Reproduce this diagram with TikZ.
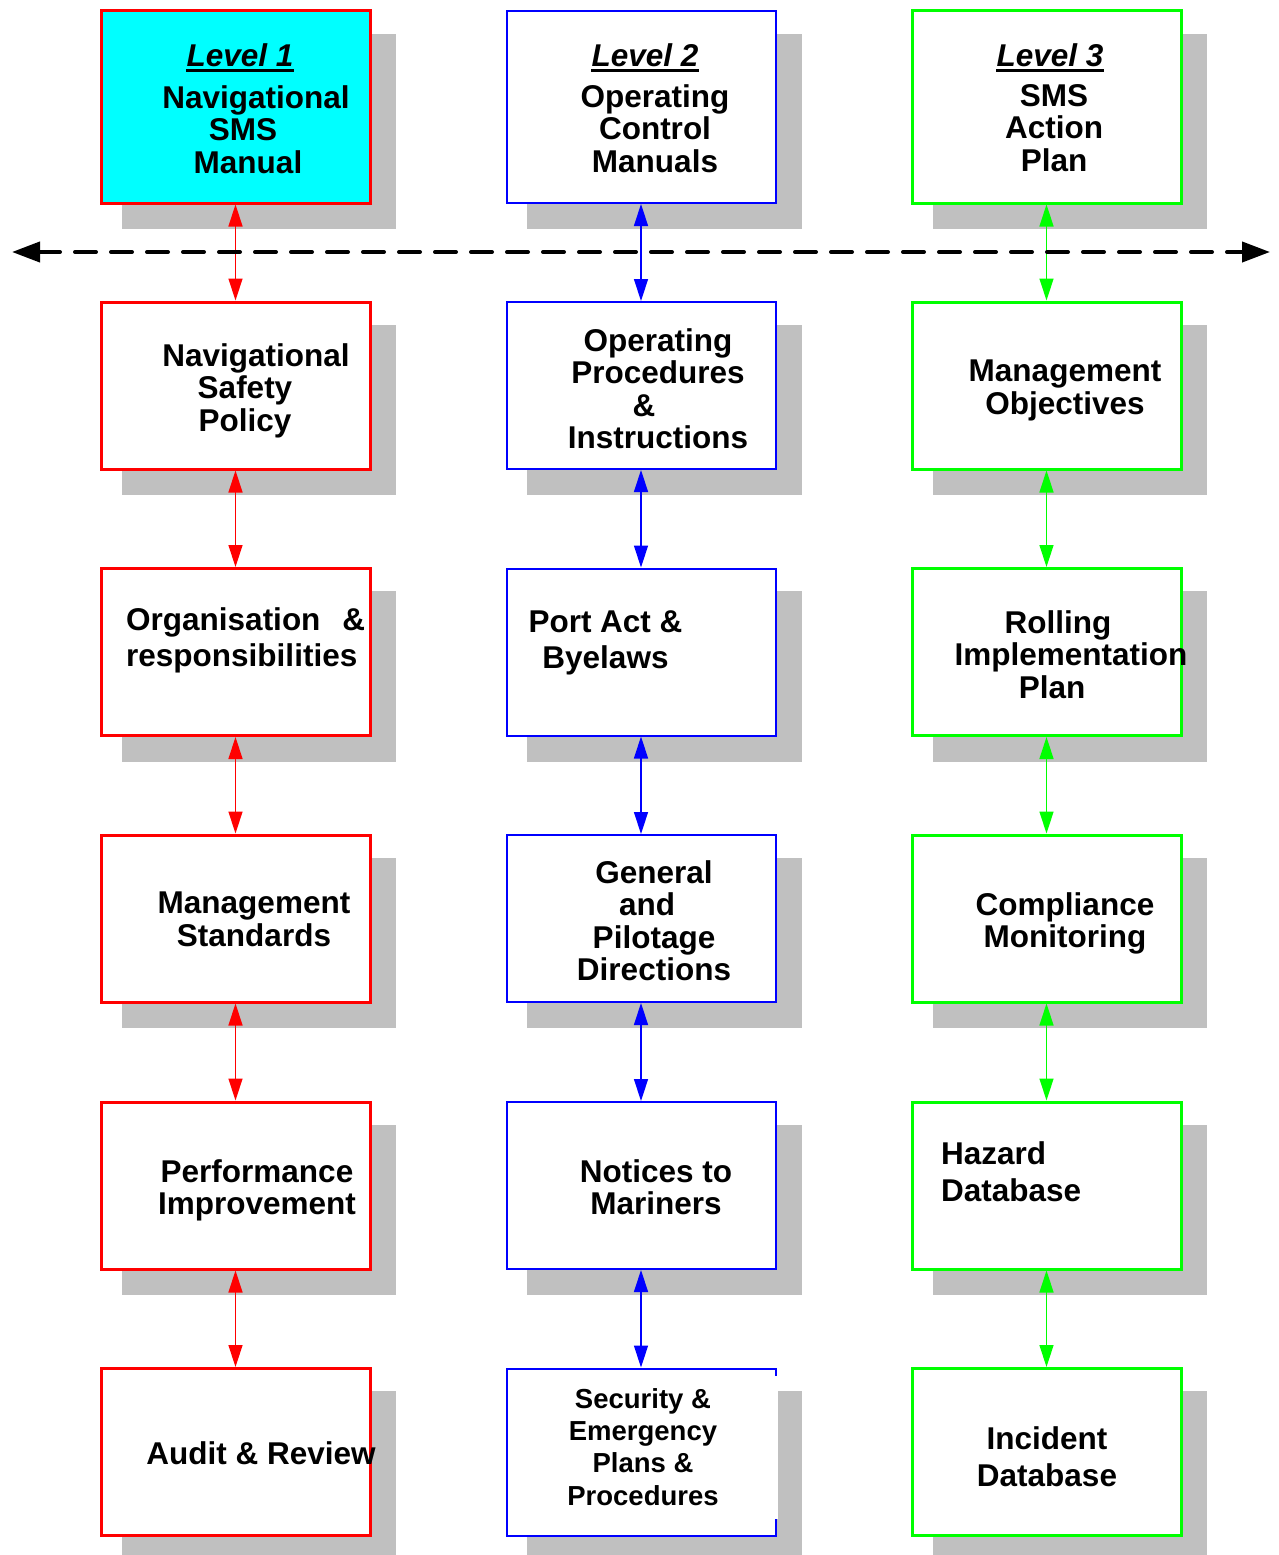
\documentclass[tikz,border=0pt]{standalone}
\usepackage{fontspec}
\setmainfont{Liberation Sans}
\usetikzlibrary{arrows.meta,shadows}
\definecolor{shadowgray}{HTML}{C0C0C0}
\definecolor{rd}{HTML}{FF0000}
\definecolor{bl}{HTML}{0000FF}
\definecolor{gr}{HTML}{00FF00}
\definecolor{cy}{HTML}{00FFFF}
\newcommand\lsh[2]{\hbox{\kern#1\relax #2}}
\begin{document}
\begin{tikzpicture}[x=1pt,y=-1pt,
  box/.style={rectangle, minimum width=269pt, inner sep=0pt, fill=white,
    drop shadow={shadow xshift=23pt,shadow yshift=-24pt,shadow scale=1.02,fill=shadowgray,opacity=1}},
  rbox/.style={box, draw=rd, line width=3pt},
  bbox/.style={box, draw=bl, line width=2pt},
  gbox/.style={box, draw=gr, line width=3pt},
  toprow/.style={minimum height=192pt},
  row/.style={minimum height=167pt},
  txt/.style={inner sep=0pt, align=center, anchor=north,
    font=\fontsize{31.5}{32.5}\selectfont\bfseries},
  ltxt/.style={txt, align=left, anchor=north west},
  stxt/.style={txt, font=\fontsize{27.5}{32.3}\selectfont\bfseries},
  lev/.style={inner sep=0pt, anchor=north,
    font=\fontsize{31.5}{32.5}\selectfont\bfseries\itshape},
  uline/.style={line width=2.5pt},
  link/.style={line width=1.4pt, {Triangle[length=22pt,width=14pt]}-{Triangle[length=22pt,width=14pt]}},
  dasharrow/.style={line width=4pt, dash pattern=on 21pt off 15pt, line cap=round,
    {Triangle[length=28pt,width=20pt,line cap=butt]}-{Triangle[length=28pt,width=20pt,line cap=butt]}}
]
\useasboundingbox (0,0) rectangle (1279,1555);

% ---- column 1 (red)
\node[rbox, toprow, fill=cy] (a1) at (235.5,107) {};
\node[rbox, row] (a2) at (235.5,385.5) {};
\node[rbox, row] (a3) at (235.5,652) {};
\node[rbox, row] (a4) at (235.5,918.5) {};
\node[rbox, row] (a5) at (235.5,1185.5) {};
\node[rbox, row] (a6) at (235.5,1452) {};
% ---- column 2 (blue)
\node[bbox, toprow] (b1) at (641,107) {};
\node[bbox, row] (b2) at (641,385.5) {};
\node[bbox, row] (b3) at (641,652) {};
\node[bbox, row] (b4) at (641,918.5) {};
\node[bbox, row] (b5) at (641,1185.5) {};
\node[bbox, row] (b6) at (641,1452) {};
\draw[white, line width=2.6pt] ([yshift=-8pt]b6.north east) -- ([yshift=18pt]b6.south east);
% ---- column 3 (green)
\node[gbox, toprow] (c1) at (1046.5,107) {};
\node[gbox, row] (c2) at (1046.5,385.5) {};
\node[gbox, row] (c3) at (1046.5,652) {};
\node[gbox, row] (c4) at (1046.5,918.5) {};
\node[gbox, row] (c5) at (1046.5,1185.5) {};
\node[gbox, row] (c6) at (1046.5,1452) {};

% ---- connectors
\draw[link, rd] (a1) -- (a2);
\draw[link, rd] (a2) -- (a3);
\draw[link, rd] (a3) -- (a4);
\draw[link, rd] (a4) -- (a5);
\draw[link, rd] (a5) -- (a6);
\draw[link, bl] (b1) -- (b2);
\draw[link, bl] (b2) -- (b3);
\draw[link, bl] (b3) -- (b4);
\draw[link, bl] (b4) -- (b5);
\draw[link, bl] (b5) -- (b6);
\draw[link, gr] (c1) -- (c2);
\draw[link, gr] (c2) -- (c3);
\draw[link, gr] (c3) -- (c4);
\draw[link, gr] (c4) -- (c5);
\draw[link, gr] (c5) -- (c6);

\coordinate (dl) at (12,252);
\coordinate (dr) at (1270,252);
\draw[dasharrow] (dl) -- (dr);

% ---- texts column 1
\node[lev] (la) at (240,43) {Level 1};
\draw[uline] ([yshift=-4.5pt]la.base west) -- ([yshift=-4.5pt]la.base east);
\node[txt] (ta1) at (248,85) {\lsh{16pt}{Navigational}\\\lsh{-10pt}{SMS}\\Manual};
\node[txt] (ta2) at (248,343) {\lsh{16pt}{Navigational}\\\lsh{-6pt}{Safety}\\\lsh{-6pt}{Policy}};
\node[ltxt] (ta3) at (126,607) {Organisation\hspace{22pt}\&\\[3.5pt]responsibilities};
\node[txt] (ta4) at (254,892) {Management\\Standards};
\node[txt] (ta5) at (257,1159) {Performance\\Improvement};
\node[txt] (ta6) at (261,1441) {Audit \& Review};
% ---- texts column 2
\node[lev] (lb) at (645,43) {Level 2};
\draw[uline] ([yshift=-4.5pt]lb.base west) -- ([yshift=-4.5pt]lb.base east);
\node[txt] (tb1) at (655,84) {Operating\\Control\\Manuals};
\node[txt] (tb2) at (658,328) {Operating\\Procedures\\\lsh{-28pt}{\&}\\Instructions};
\node[txt] (tb3) at (605.5,610) {Port Act \&\\[3.5pt]Byelaws};
\node[txt] (tb4) at (654,860) {General\\\lsh{-14pt}{and}\\Pilotage\\Directions};
\node[txt] (tb5) at (656,1159) {Notices to\\Mariners};
\node[stxt] (tb6) at (643,1388) {Security \&\\Emergency\\Plans \&\\Procedures};
% ---- texts column 3
\node[lev] (lc) at (1050,43) {Level 3};
\draw[uline] ([yshift=-4.5pt]lc.base west) -- ([yshift=-4.5pt]lc.base east);
\node[txt] (tc1) at (1054,84) {SMS\\Action\\Plan};
\node[txt] (tc2) at (1065,360) {Management\\Objectives};
\node[txt] (tc3) at (1062,610) {\lsh{-8pt}{Rolling}\\\lsh{18pt}{Implementation}\\\lsh{-20pt}{Plan}};
\node[txt] (tc4) at (1065,892) {Compliance\\Monitoring};
\node[ltxt] (tc5) at (941,1141) {Hazard\\[4.5pt]Database};
\node[txt] (tc6) at (1047,1426) {Incident\\[4.5pt]Database};
\end{tikzpicture}
\end{document}
